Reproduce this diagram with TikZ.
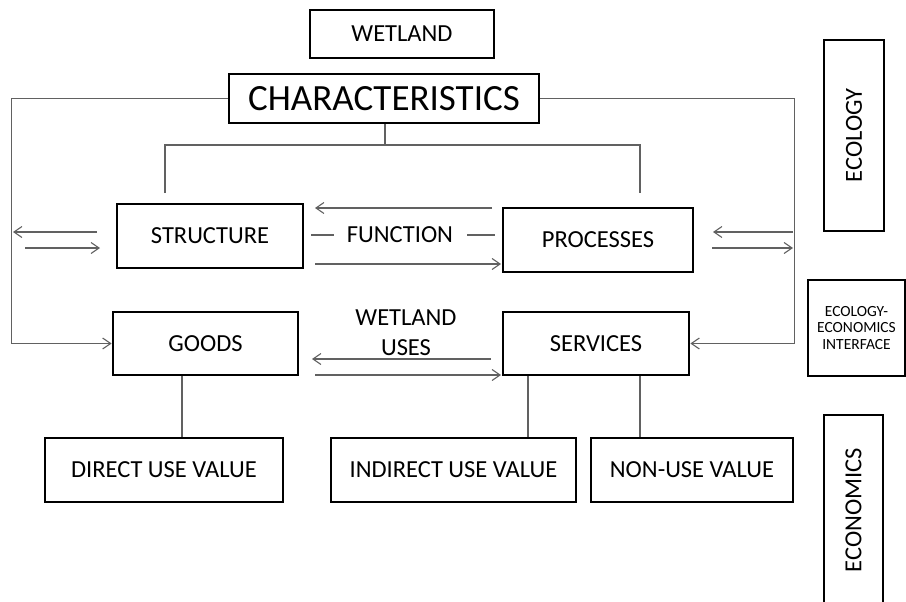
\documentclass[tikz,border=0pt]{standalone}
\usepackage{fontspec}
\setmainfont{Carlito}
\usetikzlibrary{arrows.meta}
\begin{document}
\begin{tikzpicture}[x=1pt,y=-1pt,
  box/.style={draw=black,line width=2.8pt,rectangle,inner sep=0pt,align=center,
    font=\fontsize{24.5}{29}\selectfont},
  conn/.style={draw=black!62,line width=1.1pt},
  arr/.style={conn,-{Straight Barb[length=8pt,width=11pt]}},
  lbl/.style={inner sep=0pt,align=center,font=\fontsize{24.5}{30}\selectfont}]
\useasboundingbox (0,0) rectangle (906,602);
\begin{scope}
\clip (0,0) rectangle (906,602);
% boxes
\node[box,minimum width=184pt,minimum height=48pt] (wet) at (402,34) {WETLAND};
\node[box,minimum width=310pt,minimum height=49pt,font=\fontsize{37}{44}\selectfont] (char) at (384,98.5) {CHARACTERISTICS};
\node[box,minimum width=186pt,minimum height=64pt] (struct) at (210,236) {STRUCTURE};
\node[box,minimum width=190pt,minimum height=64pt] (proc) at (598,240) {PROCESSES};
\node[box,minimum width=185pt,minimum height=63pt] (goods) at (205.5,343.5) {GOODS};
\node[box,minimum width=186pt,minimum height=63pt] (serv) at (596,343.5) {SERVICES};
\node[box,minimum width=238pt,minimum height=64pt] (direct) at (164,470) {DIRECT USE VALUE};
\node[box,minimum width=245pt,minimum height=64pt] (indirect) at (453.5,470) {INDIRECT USE VALUE};
\node[box,minimum width=202pt,minimum height=64pt] (nonuse) at (692,470) {NON-USE VALUE};
\node[box,minimum width=60pt,minimum height=191pt] (ecol) at (854,135.5) {};
\node[lbl,rotate=90] (ecoltxt) at (ecol.center) {ECOLOGY};
\node[box,minimum width=97pt,minimum height=96pt,font=\fontsize{15.5}{16.5}\selectfont] (iface) at (856.5,328) {ECOLOGY-\\ECONOMICS\\INTERFACE};
\node[box,minimum width=59pt,minimum height=190pt] (econ) at (853.5,510) {};
\node[lbl,rotate=90] (econtxt) at (econ.center) {ECONOMICS};
\end{scope}
% outer loops
\draw[arr] (char.west) -- ++(-216,0) |- (goods.west);
\draw[arr] (char.east) -- ++(254,0) |- (serv.east);
% tree from characteristics
\coordinate (cb) at (385,145);
\coordinate (sl) at (165,193);
\coordinate (pl) at (640,193);
\draw[conn] (char.south -| cb) -- (cb);
\draw[conn] (sl) |- (cb) -| (pl);
% side arrows left
\coordinate (la1) at (97,232);
\coordinate (la2) at (13,232);
\coordinate (lb1) at (25,248);
\coordinate (lb2) at (100,248);
\draw[arr] (la1) -- (la2);
\draw[arr] (lb1) -- (lb2);
% side arrows right
\coordinate (ra1) at (793,232);
\coordinate (ra2) at (713,232);
\coordinate (rb1) at (712,248);
\coordinate (rb2) at (793,248);
\draw[arr] (ra1) -- (ra2);
\draw[arr] (rb1) -- (rb2);
% function
\node[lbl] (func) at (400,235) {FUNCTION};
\coordinate (f1) at (311,235);
\coordinate (f2) at (334,235);
\coordinate (f3) at (467,235);
\coordinate (f4) at (495,235);
\draw[conn] (f1) -- (f2);
\draw[conn] (f3) -- (f4);
\coordinate (fa1) at (492,208);
\coordinate (fa2) at (315,208);
\coordinate (fb1) at (315,264);
\coordinate (fb2) at (501,264);
\draw[arr] (fa1) -- (fa2);
\draw[arr] (fb1) -- (fb2);
% wetland uses
\node[lbl] (uses) at (406,333) {WETLAND\\USES};
\coordinate (ua1) at (491,359);
\coordinate (ua2) at (312,359);
\coordinate (ub1) at (315,375);
\coordinate (ub2) at (501,375);
\draw[arr] (ua1) -- (ua2);
\draw[arr] (ub1) -- (ub2);
% down links
\draw[conn] (goods.south -| 182,0) -- (direct.north -| 182,0);
\draw[conn] (serv.south -| 528,0) -- (indirect.north -| 528,0);
\draw[conn] (serv.south -| 640,0) -- (nonuse.north -| 640,0);
\end{tikzpicture}
\end{document}
